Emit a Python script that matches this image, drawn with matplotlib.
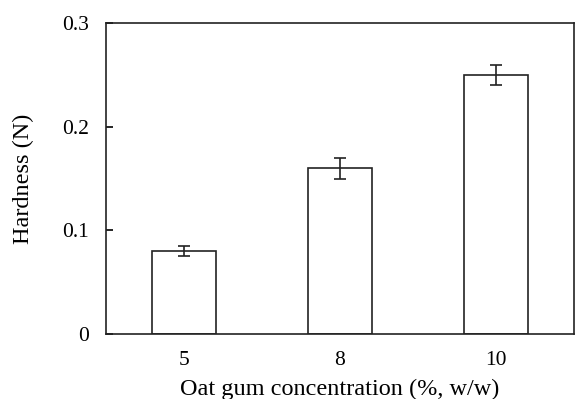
import matplotlib.pyplot as plt
import numpy as np

plt.rcParams['font.family'] = ['Liberation Serif', 'DejaVu Serif']

# Data
concentrations = ['5', '8', '10']
hardness = [0.080, 0.160, 0.250]
hardness_err = [0.0048, 0.0103, 0.0095]
y_ticks = [0, 0.1, 0.2, 0.3]
y_tick_labels = ['0', '0.1', '0.2', '0.3']

fig = plt.figure(figsize=(5.75, 3.99), dpi=100)
ax = fig.add_axes([0.184, 0.163, 0.814, 0.779])

x = np.arange(len(concentrations))
ax.bar(x, hardness, width=0.41, color='white', edgecolor='#222222', linewidth=1.2,
       yerr=hardness_err, capsize=4.5,
       error_kw=dict(ecolor='#222222', elinewidth=1.2, capthick=1.2))

ax.set_xlim(-0.5, 2.5)
ax.set_ylim(0, 0.3)
ax.set_xticks(x)
ax.set_xticklabels(concentrations)
ax.set_yticks(y_ticks)
ax.set_yticklabels(y_tick_labels)

ax.tick_params(axis='x', length=0, pad=12.5, labelsize=15.5)
ax.tick_params(axis='y', direction='in', length=5, width=1.2, pad=12, labelsize=15.5)

for s in ax.spines.values():
    s.set_linewidth(1.2)
    s.set_color('#222222')

ax.set_ylabel('Hardness (N)', fontsize=17.5, labelpad=20)
ax.set_xlabel('Oat gum concentration (%, w/w)', fontsize=17.5, labelpad=6)

fig.savefig('out.png', dpi=100)
